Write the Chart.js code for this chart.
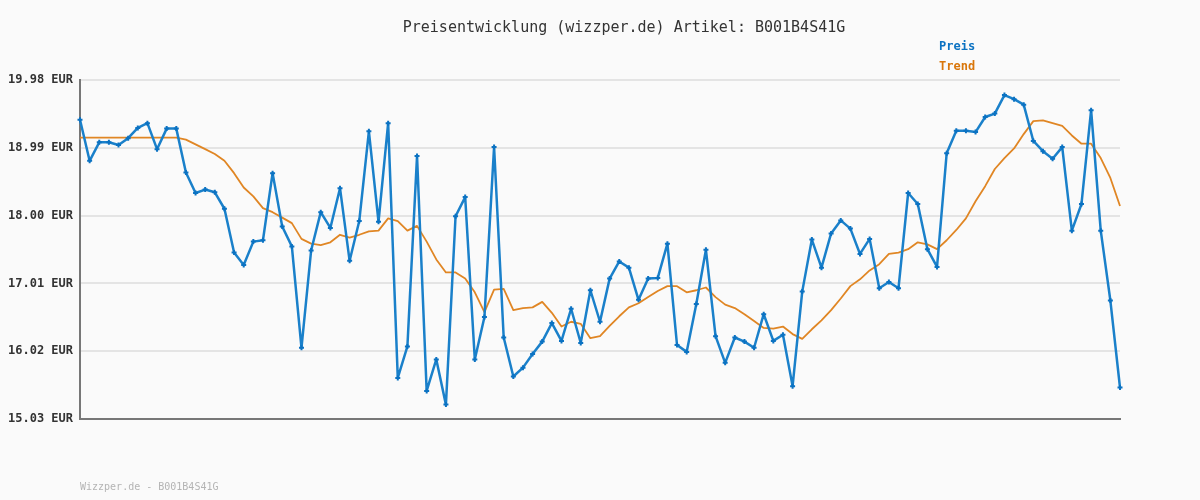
<!DOCTYPE html>
<html>
<head>
<meta charset="utf-8">
<title>Preisentwicklung</title>
<script src="https://cdn.jsdelivr.net/npm/chart.js@4/dist/chart.umd.min.js"></script>
<style>
  html, body { margin: 0; padding: 0; background: #fafafa; }
</style>
</head>
<body>
<canvas id="chartPreis" width="1200" height="500"></canvas>
<script>
const titre = "Preisentwicklung (wizzper.de) Artikel: B001B4S41G";
const pied = "Wizzper.de - B001B4S41G";

// valeurs (EUR)
const preis = [
  19.40, 18.80, 19.07, 19.07, 19.03, 19.13, 19.28, 19.35, 18.97, 19.27,
  19.27, 18.63, 18.33, 18.38, 18.34, 18.10, 17.46, 17.28, 17.62, 17.64,
  18.62, 17.84, 17.55, 16.07, 17.49, 18.05, 17.82, 18.40, 17.34, 17.92,
  19.23, 17.91, 19.35, 15.63, 16.09, 18.87, 15.44, 15.90, 15.24, 17.99,
  18.27, 15.90, 16.52, 19.00, 16.22, 15.65, 15.78, 15.98, 16.16, 16.43,
  16.17, 16.64, 16.14, 16.91, 16.45, 17.08, 17.33, 17.24, 16.77, 17.08,
  17.09, 17.59, 16.11, 16.01, 16.71, 17.50, 16.24, 15.85, 16.22, 16.16,
  16.07, 16.56, 16.17, 16.26, 15.51, 16.89, 17.65, 17.24, 17.74, 17.93,
  17.81, 17.44, 17.66, 16.94, 17.03, 16.94, 18.33, 18.17, 17.51, 17.25,
  18.91, 19.24, 19.24, 19.22, 19.44, 19.49, 19.76, 19.70, 19.62, 19.09,
  18.94, 18.83, 19.00, 17.78, 18.17, 19.54, 17.78, 16.76, 15.49
];

const trend = [
  19.14, 19.14, 19.14, 19.14, 19.14, 19.14, 19.14, 19.14, 19.14, 19.14,
  19.14, 19.11, 19.04, 18.97, 18.90, 18.80, 18.62, 18.41, 18.28, 18.11,
  18.05, 17.97, 17.89, 17.66, 17.59, 17.57, 17.61, 17.72, 17.68, 17.72,
  17.77, 17.78, 17.96, 17.92, 17.78, 17.85, 17.62, 17.36, 17.17, 17.17,
  17.08, 16.88, 16.59, 16.92, 16.93, 16.62, 16.65, 16.66, 16.74, 16.58,
  16.38, 16.45, 16.42, 16.21, 16.24, 16.39, 16.53, 16.66, 16.72, 16.81,
  16.90, 16.97, 16.97, 16.88, 16.91, 16.95, 16.81, 16.70, 16.65, 16.56,
  16.46, 16.36, 16.35, 16.38, 16.27, 16.20, 16.34, 16.47, 16.62, 16.79,
  16.97, 17.07, 17.20, 17.29, 17.44, 17.46, 17.51, 17.61, 17.58, 17.51,
  17.64, 17.79, 17.96, 18.21, 18.43, 18.68, 18.84, 18.98, 19.19, 19.38,
  19.39, 19.35, 19.31, 19.17, 19.05, 19.05, 18.84, 18.55, 18.14
];

const yTicks = [15.03, 16.02, 17.01, 18.00, 18.99, 19.98];

const jours = preis.map((v, i) => String(i + 1));

const mono = "'DejaVu Sans Mono', 'Liberation Mono', monospace";

// titre, legende et pied de page dessines sur le canvas
const textes = {
  id: "textes",
  afterDraw(chart) {
    const ctx = chart.ctx;
    ctx.save();
    ctx.textBaseline = "middle";
    ctx.textAlign = "center";
    ctx.font = "15px " + mono;
    ctx.fillStyle = "#333333";
    ctx.fillText(titre, 624, 28);

    ctx.textAlign = "left";
    ctx.font = "bold 12px " + mono;
    chart.data.datasets.forEach((ds, i) => {
      ctx.fillStyle = ds.legendColor;
      ctx.fillText(ds.label, 939, 47 + i * 20);
    });

    ctx.font = "10px " + mono;
    ctx.fillStyle = "#b4b4b4";
    ctx.fillText(pied, 80, 487);
    ctx.restore();
  },
};

var ctx = document.getElementById("chartPreis");
var myChart = new Chart(ctx, {
  type: "line",
  data: {
    labels: jours,
    datasets: [
      {
        label: "Preis",
        data: preis,
        borderColor: "#1a80ca",
        legendColor: "#0b72c2",
        backgroundColor: "#0b72c2",
        borderWidth: 2.5,
        borderJoinStyle: "round",
        pointStyle: "cross",
        pointRadius: 2.5,
        pointBorderWidth: 2,
        pointBorderColor: "#0b72c2",
        tension: 0,
        order: 1,
      },
      {
        label: "Trend",
        data: trend,
        borderColor: "#e08624",
        legendColor: "#d9760a",
        borderWidth: 1.8,
        borderJoinStyle: "round",
        pointRadius: 0,
        tension: 0,
        order: 2,
      },
    ],
  },
  options: {
    responsive: false,
    animation: false,
    layout: {
      padding: { left: 0, right: 80, top: 80, bottom: 81 },
    },
    plugins: {
      legend: { display: false },
      title: { display: false },
      tooltip: { enabled: false },
    },
    scales: {
      x: {
        type: "category",
        offset: false,
        ticks: { display: false },
        grid: { display: false, drawTicks: false },
        border: { display: true, color: "#777777", width: 2 },
        afterFit: (scale) => {
          scale.height = 0;
        },
      },
      y: {
        min: 15.03,
        max: 19.98,
        afterBuildTicks: (scale) => {
          scale.ticks = yTicks.map((v) => ({ value: v }));
        },
        afterFit: (scale) => {
          scale.width = 80;
        },
        ticks: {
          padding: 7,
          color: "#333333",
          font: { family: mono, size: 12, weight: "bold" },
          callback: (v) => Number(v).toFixed(2) + " EUR",
        },
        grid: {
          color: "#e4e4e4",
          lineWidth: 2,
          drawTicks: false,
        },
        border: { display: true, color: "#777777", width: 2 },
      },
    },
  },
  plugins: [textes],
});
</script>
</body>
</html>
